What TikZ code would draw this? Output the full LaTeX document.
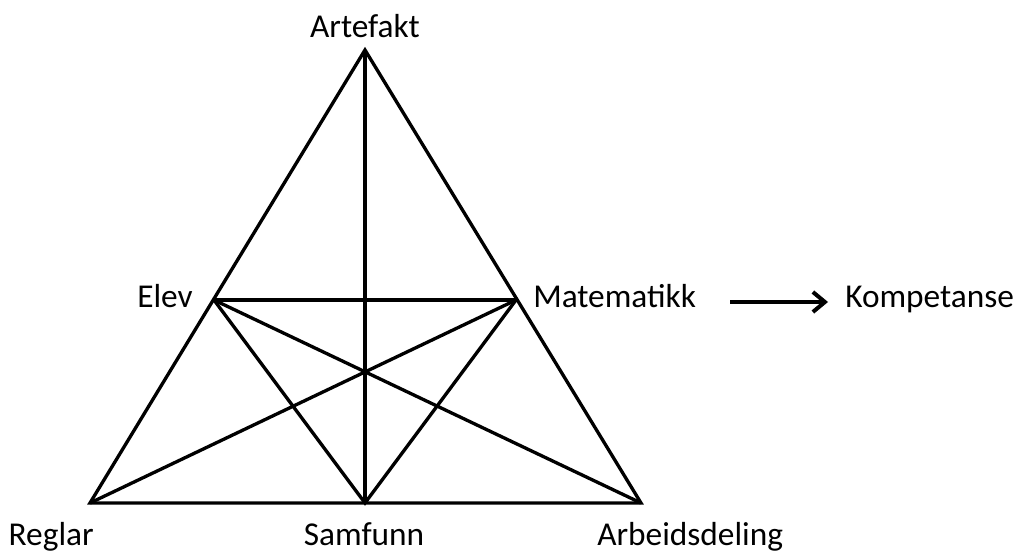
\documentclass[tikz,border=0pt]{standalone}
\usepackage{fontspec}
\setmainfont{Carlito}
\usetikzlibrary{arrows.meta}
\begin{document}
\begin{tikzpicture}[x=0.75pt,y=-0.75pt,
  edge/.style={line width=2.5pt,line join=miter},
  lbl/.style={font=\fontsize{25}{30}\selectfont,inner sep=0pt},
  arr/.style={line width=3pt,-{Straight Barb[length=9pt,width=15pt,line width=3pt]}}]
\useasboundingbox (0,0) rectangle (1022,552);
\coordinate (A) at (365,50);
\coordinate (E) at (214,300);
\coordinate (M) at (516,300);
\coordinate (R) at (90,503);
\coordinate (S) at (365,503);
\coordinate (D) at (641,503);
\draw[edge] (R) -- (A) -- (D) -- cycle;
\draw[edge] (A) -- (S);
\draw[edge] (E) -- (M);
\draw[edge] (E) -- (S) -- (M);
\draw[edge] (E) -- (D);
\draw[edge] (M) -- (R);
\node[lbl,anchor=base] (tA) at (365,38) {Artefakt};
\node[lbl,anchor=base east] (tE) at (193,308) {Elev};
\node[lbl,anchor=base west] (tM) at (533,308) {Matematikk};
\node[lbl,anchor=base west] (tK) at (845,308) {Kompetanse};
\node[lbl,anchor=base east] (tR) at (94,546) {Reglar};
\node[lbl,anchor=base] (tS) at (364,546) {Samfunn};
\node[lbl,anchor=base west] (tD) at (597,546) {Arbeidsdeling};
\coordinate (a0) at (730,302);
\coordinate (a1) at (828,302);
\draw[arr] (a0) -- (a1);
\end{tikzpicture}
\end{document}
